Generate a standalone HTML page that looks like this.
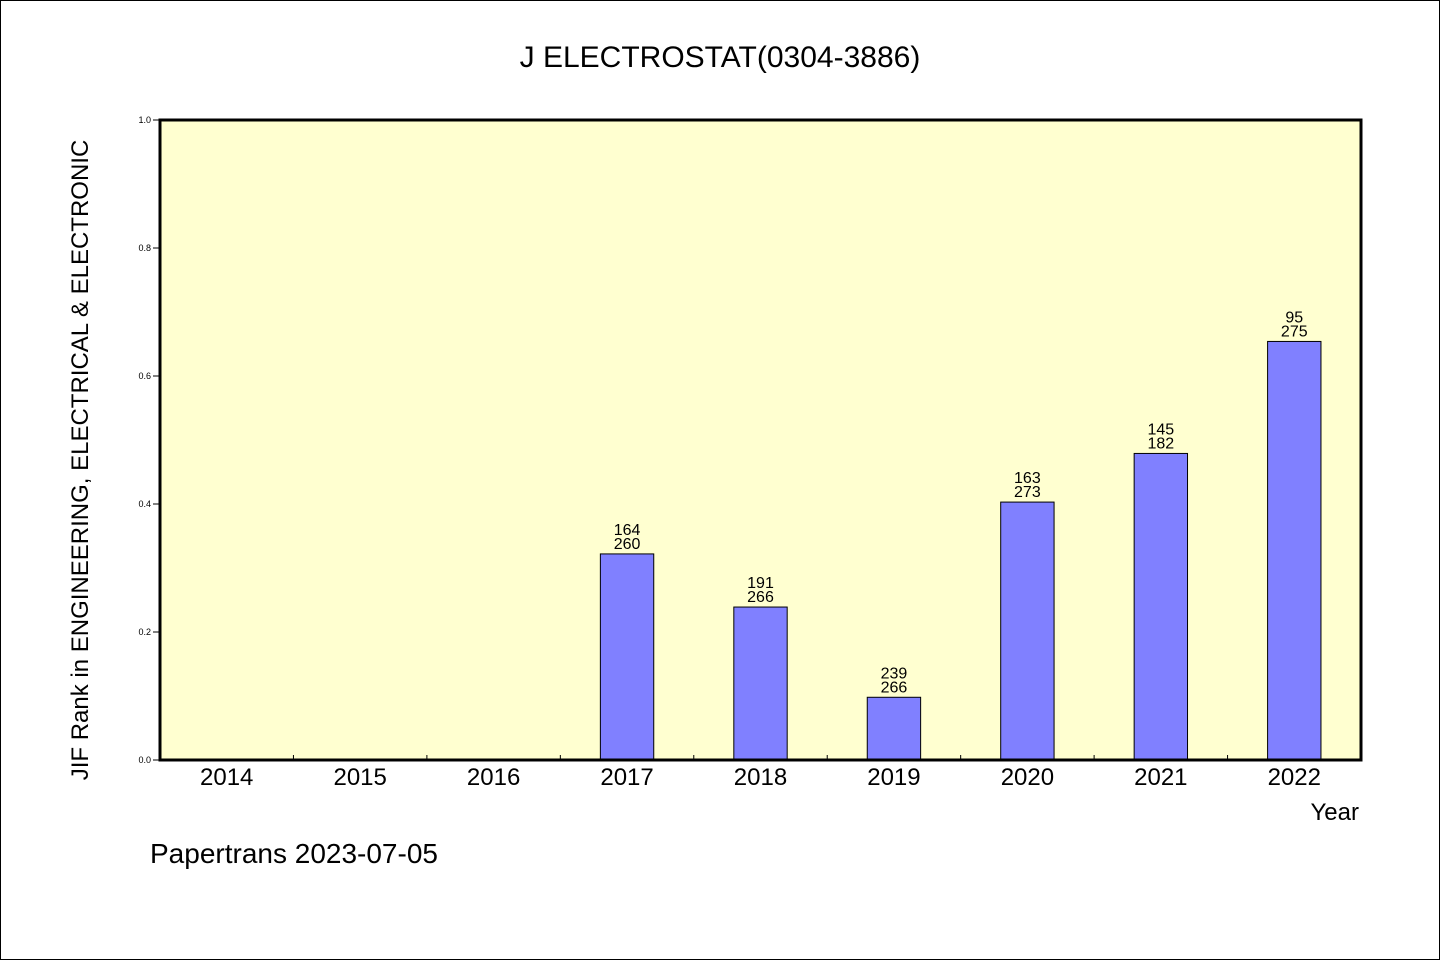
<!DOCTYPE html>
<html><head><meta charset="utf-8"><style>
html,body{margin:0;padding:0;background:#fff}
svg{display:block}
text{font-family:"WenQuanYi Zen Hei","Liberation Sans",sans-serif;fill:#000}
</style></head><body>
<svg width="1440" height="960">
<rect x="0.5" y="0.5" width="1439" height="959" fill="#fff" stroke="#000"/>
<text x="720" y="67" font-size="30" text-anchor="middle">J ELECTROSTAT(0304-3886)</text>
<rect x="160" y="120" width="1201" height="640" fill="#ffffd0"/>
<g id="marks"></g>
<rect x="160" y="120" width="1201" height="640" fill="none" stroke="#000" stroke-width="3"/>
<text transform="translate(88,460) rotate(-90)" font-size="24" text-anchor="middle">JIF Rank in ENGINEERING, ELECTRICAL &amp; ELECTRONIC</text>
<text x="1359" y="820" font-size="24" text-anchor="end">Year</text>
<text x="150" y="863" font-size="28">Papertrans 2023-07-05</text>
</svg>
<script>
const categories=["2014","2015","2016","2017","2018","2019","2020","2021","2022"];
const values=[null,null,null,0.322,0.239,0.098,0.403,0.479,0.654];
const ranks=[null,null,null,"164","191","239","163","145","95"];
const totals=[null,null,null,"260","266","266","273","182","275"];
const yTicks=[0,0.2,0.4,0.6,0.8,1.0];
const X0=160,X1=1361,Y0=760,Y1=120;
const band=(X1-X0)/categories.length;
const xc=i=>X0+band*(i+0.5);
const y=v=>Y0-(v)*(Y0-Y1);
const g=document.getElementById('marks');
const NS="http://www.w3.org/2000/svg";
function mk(t,a){const e=document.createElementNS(NS,t);for(const k in a)e.setAttribute(k,a[k]);g.appendChild(e);return e;}
yTicks.forEach(v=>{
  const l=mk('line',{x1:153,x2:160,y1:y(v),y2:y(v),stroke:'#000'});
  
  
  const t=mk('text',{x:151,y:y(v)+3,'font-size':9,'text-anchor':'end'});
  t.textContent=v.toFixed(1);
  
  
});
categories.forEach((c,i)=>{
  if(i>0){
    const l=mk('line',{x1:X0+band*i,x2:X0+band*i,y1:Y0-5,y2:Y0,stroke:'#000'});
    
    
  }
  const t=mk('text',{x:xc(i),y:785,'font-size':24,'text-anchor':'middle'});
  t.textContent=c;
  
  
  if(values[i]!=null){
    const w=band*0.4;
    const r=mk('rect',{x:xc(i)-w/2,y:y(values[i]),width:w,height:Y0-y(values[i]),fill:'#8080ff',stroke:'#000','stroke-width':1});
    
    
    const a=mk('text',{x:xc(i),y:y(values[i])-19,'font-size':16,'text-anchor':'middle'});
    a.textContent=ranks[i];
    
    
    const b=mk('text',{x:xc(i),y:y(values[i])-5,'font-size':16,'text-anchor':'middle'});
    b.textContent=totals[i];
    
    
  }
});
</script>
</body></html>
